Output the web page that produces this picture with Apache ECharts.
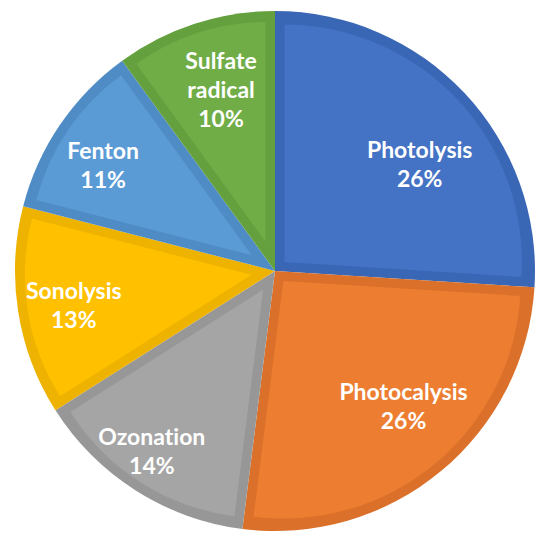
<!DOCTYPE html>
<html>
<head>
<meta charset="utf-8">
<script src="https://cdn.jsdelivr.net/npm/echarts@6/dist/echarts.min.js"></script>
<style>
  html, body { margin: 0; padding: 0; background: #fff; }
  #chart { width: 550px; height: 544px; }
  /* Lato joins "ti" by default, the original font does not */
  #chart text { font-variant-ligatures: none; }
</style>
</head>
<body>
<div id="chart"></div>
<script>
  const categories = ["Photolysis", "Photocalysis", "Ozonation", "Sonolysis", "Fenton", "Sulfate radical"];
  const shares = [26, 26, 14, 13, 11, 10];

  // slice fill and the darker band drawn around each slice
  const fillColors = ["#4472C4", "#ED7D31", "#A5A5A5", "#FFC000", "#5B9BD5", "#70AD47"];
  const edgeColors = ["#3A66B6", "#DA7029", "#979797", "#EEB200", "#4F8CC6", "#64A03E"];

  // where each label sits: distance from centre (px) and angular nudge (deg, clockwise)
  const labelRadius = [177, 183, 215, 201, 199, 187];
  const labelNudge = [6.7, -4.1, 2, -0.5, -2.5, 1.5];

  const center = [275, 271];
  const R = 260;
  const EDGE = 9.5;
  const total = shares.reduce((a, b) => a + b, 0);

  const series = [];

  // dark base disc
  series.push({
    type: "pie",
    center: center,
    radius: R,
    silent: true,
    emphasis: { disabled: true },
    label: { show: false },
    labelLine: { show: false },
    data: categories.map((name, i) => ({
      name: name,
      value: shares[i],
      itemStyle: { color: edgeColors[i] }
    }))
  });

  // inset fill: one series per slice, pushed out along its bisector so the
  // dark band keeps the same width along both straight edges
  categories.forEach((name, i) => {
    const half = shares[i] / total * Math.PI;
    const offset = EDGE / Math.sin(half);
    series.push({
      type: "pie",
      center: center,
      radius: R - EDGE - offset,
      silent: true,
      selectedMode: "multiple",
      selectedOffset: offset,
      select: { itemStyle: { borderWidth: 0 } },
      emphasis: { disabled: true },
      label: { show: false },
      labelLine: { show: false },
      data: categories.map((n, j) => ({
        name: n,
        value: shares[j],
        selected: j === i,
        itemStyle: { color: j === i ? fillColors[j] : "rgba(0,0,0,0)" }
      }))
    });
  });

  // labels
  categories.forEach((name, i) => {
    series.push({
      type: "pie",
      center: center,
      radius: [labelRadius[i] - 1, labelRadius[i] + 1],
      startAngle: 90 - labelNudge[i],
      silent: true,
      avoidLabelOverlap: false,
      emphasis: { disabled: true },
      itemStyle: { color: "rgba(0,0,0,0)" },
      label: {
        position: "inside",
        color: "#fff",
        fontFamily: "Lato, sans-serif",
        fontWeight: "bold",
        fontSize: 23,
        lineHeight: 29,
        formatter: p => p.name.replace(" ", "\n") + "\n" + p.value + "%"
      },
      labelLine: { show: false },
      data: categories.map((n, j) => ({
        name: n,
        value: shares[j],
        label: { show: j === i }
      }))
    });
  });

  const chart = echarts.init(document.getElementById("chart"), null, { renderer: "svg" });
  chart.setOption({
    animation: false,
    backgroundColor: "#fff",
    series: series
  });
</script>
</body>
</html>
